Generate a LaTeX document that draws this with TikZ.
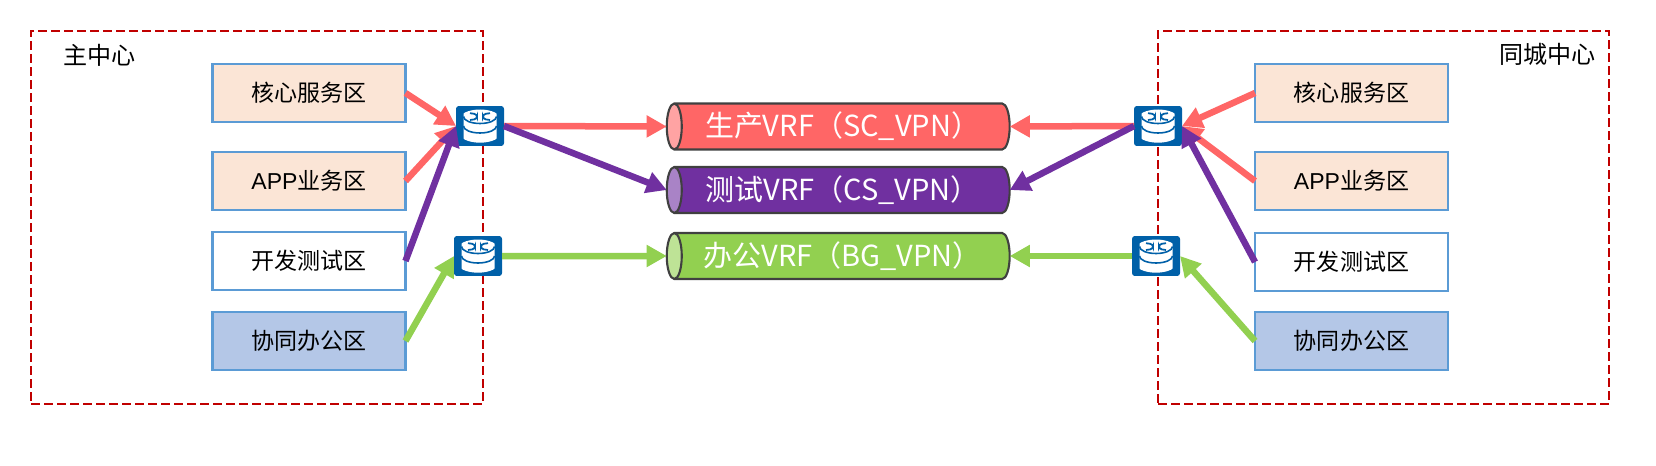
\documentclass[tikz,border=0pt]{standalone}
\usepackage{fontspec}
\setmainfont{Liberation Sans}
\newfontfamily\cjk{Noto Sans CJK SC}
\usetikzlibrary{arrows.meta,shapes.geometric}
\definecolor{framered}{HTML}{C00000}
\definecolor{boxblue}{HTML}{5B9BD5}
\definecolor{peach}{HTML}{FBE5D6}
\definecolor{paleblue}{HTML}{B4C7E7}
\definecolor{routerblue}{HTML}{0060A8}
\definecolor{scred}{HTML}{FF6666}
\definecolor{cspurple}{HTML}{7030A0}
\definecolor{bggreen}{HTML}{92D050}
\definecolor{tubeline}{HTML}{404040}
\tikzset{
  flowarrow/.style={-{Triangle[length=11.5pt,width=12pt]}, line width=3.7pt},
  zone/.style={draw=framered, line width=1.4pt, dash pattern=on 5pt off 2.4pt, outer sep=0pt, inner sep=0pt, minimum height=7.46cm},
  area/.style={draw=boxblue, line width=1.3pt, outer sep=0pt, minimum width=3.86cm, minimum height=1.15cm, font=\fontsize{13.1}{15}\selectfont},
  title/.style={inner sep=0pt, font=\cjk\fontsize{13.7}{16}\selectfont},
  tube/.style={cylinder, shape border rotate=180, shape aspect=0.52, cylinder uses custom fill, draw=tubeline, line width=1.2pt,
    outer sep=0pt, inner sep=0pt, minimum width=0.92cm, minimum height=6.86cm, text=white, font=\cjk\fontsize{16.5}{20}\selectfont},
  router/.style={fill=routerblue, rounded corners=1.6pt, outer sep=0pt, inner sep=0pt, minimum width=0.96cm, minimum height=0.8cm,
    path picture={
      \begin{scope}[shift={(path picture bounding box.center)}]
        \fill[white] (-16.5,-9.5) -- (-16.5,9.7) arc[start angle=180, end angle=360, x radius=16.5, y radius=-7] -- (16.5,-9.5) arc[start angle=0, end angle=180, x radius=16.5, y radius=-7] -- cycle;
        \draw[routerblue, line width=0.9pt] (-16.5,-9.5) arc[start angle=180, end angle=360, x radius=16.5, y radius=-7];
        \draw[routerblue, line width=0.9pt] (-16.5,0) arc[start angle=180, end angle=360, x radius=16.5, y radius=-7];
        \draw[routerblue, line width=1pt] (-10,-12.8) -- (-3,-11.8) -- (-3,-7) -- (-10,-6);
        \draw[routerblue, line width=1pt] (10,-12.8) -- (3,-11.8) -- (3,-7) -- (10,-6);
      \end{scope}
    }}
}
\begin{document}
\begin{tikzpicture}[x=0.02cm, y=-0.02cm]
  \useasboundingbox (0,0) rectangle (1656,466);
  \node[zone, minimum width=9.04cm] (mainzone) at (257,217.5) {};
  \node[zone, minimum width=9.02cm] (cityzone) at (1383.5,217.5) {};
  \node[title] (maintitle) at (99.5,55) {主中心};
  \node[title] (citytitle) at (1547.5,54) {同城中心};

  \node[area, fill=peach] (lcore) at (309,93) {\cjk 核心服务区};
  \node[area, fill=peach] (lapp) at (309,181) {APP{\cjk 业务区}};
  \node[area, fill=white] (ldev) at (309,261) {\cjk 开发测试区};
  \node[area, fill=paleblue] (loffice) at (309,341) {\cjk 协同办公区};
  \node[area, fill=peach] (rcore) at (1351.5,93) {\cjk 核心服务区};
  \node[area, fill=peach] (rapp) at (1351.5,181) {APP{\cjk 业务区}};
  \node[area, fill=white] (rdev) at (1351.5,262) {\cjk 开发测试区};
  \node[area, fill=paleblue] (roffice) at (1351.5,341) {\cjk 协同办公区};

  \node[router] (lprod) at (480,126) {};
  \node[router] (lwork) at (478,256) {};
  \node[router] (rprod) at (1158,126) {};
  \node[router] (rwork) at (1156,256) {};

  \node[tube, cylinder body fill=scred, cylinder end fill=scred!60!white] (scvrf) at (842.5,126.5) {生产VRF（SC\_VPN）};
  \node[tube, cylinder body fill=cspurple, cylinder end fill=cspurple!60!white] (csvrf) at (842.5,190) {测试VRF（CS\_VPN）};
  \node[tube, cylinder body fill=bggreen, cylinder end fill=bggreen!60!white] (bgvrf) at (842.5,256) {办公VRF（BG\_VPN）};

  \draw[flowarrow, scred] (lcore.east) -- (lprod.west);
  \draw[flowarrow, scred] (lapp.east) -- (lprod.west);
  \draw[flowarrow, cspurple] (ldev.east) -- (lprod.west);
  \draw[flowarrow, bggreen] (loffice.east) -- (lwork.west);
  \draw[flowarrow, scred] (lprod.east) -- (scvrf.west);
  \draw[flowarrow, cspurple] (lprod.east) -- (csvrf.west);
  \draw[flowarrow, bggreen] (lwork.east) -- (bgvrf.west);

  \draw[flowarrow, scred] (rcore.west) -- (rprod.east);
  \draw[flowarrow, scred] (rapp.west) -- (rprod.east);
  \draw[flowarrow, cspurple] (rdev.west) -- (rprod.east);
  \draw[flowarrow, bggreen] (roffice.west) -- (rwork.east);
  \draw[flowarrow, scred] (rprod.west) -- (scvrf.east);
  \draw[flowarrow, cspurple] (rprod.west) -- (csvrf.east);
  \draw[flowarrow, bggreen] (rwork.west) -- (bgvrf.east);
\end{tikzpicture}
\end{document}
